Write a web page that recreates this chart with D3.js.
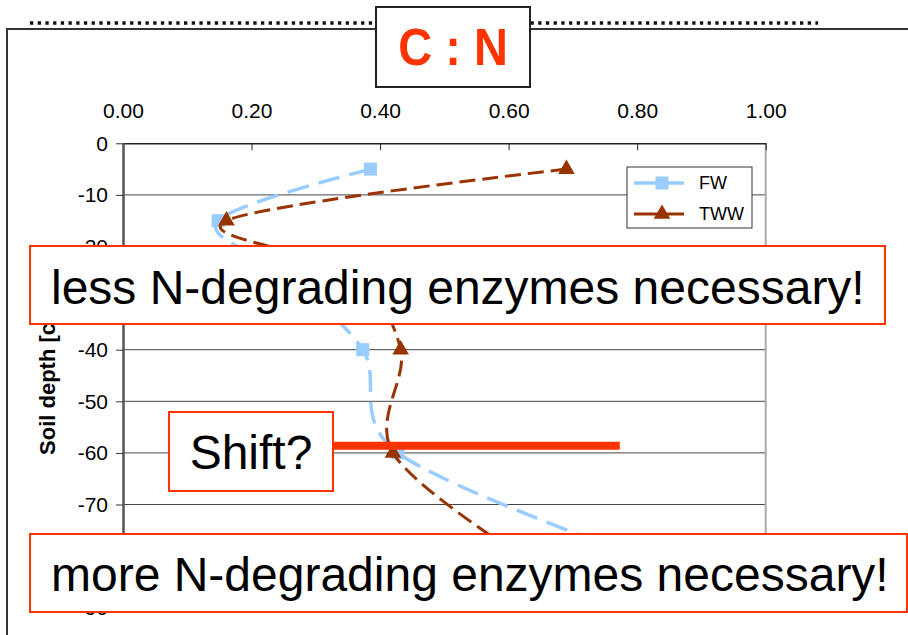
<!DOCTYPE html>
<html>
<head>
<meta charset="utf-8">
<script src="https://cdn.jsdelivr.net/npm/d3@7"></script>
<style>
  html, body { margin: 0; padding: 0; background: #fff; }
  svg { display: block; font-family: "Liberation Sans", Arial, sans-serif; }
</style>
</head>
<body>
<svg id="chart" width="908" height="635"></svg>
<script>
// C:N ratio by soil depth (layer midpoints), two irrigation treatments
const depths = [-5, -15, -25, -40, -60, -80];
const fwValues = [0.385, 0.148, 0.245, 0.373, 0.428, 0.80];
const twwValues = [0.690, 0.161, 0.353, 0.432, 0.420, 0.62];
const seriesNames = ["FW", "TWW"];
const xTicks = [0, 0.2, 0.4, 0.6, 0.8, 1.0];
const yTicks = [0, -10, -20, -30, -40, -50, -60, -70, -80, -90];
const titleText = "C : N";
const yTitleText = "Soil depth [cm]";
const noteTop = "less N-degrading enzymes necessary!";
const noteShift = "Shift?";
const noteBottom = "more N-degrading enzymes necessary!";
const shiftDepth = -58.6;
const shiftEnd = 0.773;

const RED = "#FF3300";
const svg = d3.select("#chart");

const x = d3.scaleLinear().domain([0, 1]).range([123, 765.7]);
const y = d3.scaleLinear().domain([0, -90]).range([143.3, 607.7]);

// slide frame and dotted rule
svg.append("path")
  .attr("d", "M7,635 V29 H908")
  .attr("fill", "none").attr("stroke", "#333").attr("stroke-width", 2);
svg.append("line")
  .attr("x1", 30).attr("x2", 818).attr("y1", 23).attr("y2", 23)
  .attr("stroke", "#111").attr("stroke-width", 3.5)
  .attr("stroke-dasharray", "3.3,4.4");

// title box
svg.append("rect")
  .attr("x", 376).attr("y", 7).attr("width", 154).attr("height", 80)
  .attr("fill", "#fff").attr("stroke", "#222").attr("stroke-width", 2);
svg.append("text")
  .attr("transform", "translate(453,65) scale(1,1.1)")
  .attr("text-anchor", "middle")
  .attr("font-size", 47).attr("font-weight", "bold").attr("fill", RED)
  .text(titleText);

// gridlines
svg.append("g").selectAll("line")
  .data(yTicks.filter(d => d !== 0))
  .join("line")
  .attr("x1", x(0)).attr("x2", x(1))
  .attr("y1", d => y(d)).attr("y2", d => y(d))
  .attr("stroke", "#444").attr("stroke-width", 1);

// right plot border
svg.append("line")
  .attr("x1", x(1)).attr("x2", x(1)).attr("y1", y(0)).attr("y2", y(-90))
  .attr("stroke", "#aaa").attr("stroke-width", 2);

// x axis along the top, ticks pointing into the plot
const xAxis = svg.append("g")
  .attr("transform", `translate(0,${y(0)})`)
  .call(d3.axisTop(x).tickValues(xTicks).tickFormat(d3.format(".2f"))
    .tickSizeInner(-7).tickSizeOuter(0).tickPadding(25));
xAxis.select(".domain").attr("stroke", "#222").attr("stroke-width", 1.5);
xAxis.selectAll(".tick line").attr("stroke", "#222");
xAxis.selectAll("text")
  .attr("font-size", 21).attr("fill", "#000")
  .attr("font-family", "'Liberation Sans', Arial, sans-serif");

// y axis
const yAxis = svg.append("g")
  .attr("transform", `translate(${x(0)},0)`)
  .call(d3.axisLeft(y).tickValues(yTicks).tickFormat(d3.format("d"))
    .tickSizeInner(7).tickSizeOuter(0).tickPadding(8));
yAxis.select(".domain").attr("stroke", "#555").attr("stroke-width", 2.5);
yAxis.selectAll(".tick line").attr("stroke", "#333");
yAxis.selectAll("text")
  .attr("font-size", 21).attr("fill", "#000")
  .attr("font-family", "'Liberation Sans', Arial, sans-serif")
  .text(d => d === 0 ? "0" : d3.format("d")(d).replace("\u2212", "-"));

// y axis title
svg.append("text")
  .attr("transform", `translate(55,${(y(0) + y(-90)) / 2}) rotate(-90)`)
  .attr("text-anchor", "middle")
  .attr("font-size", 22).attr("font-weight", "bold").attr("fill", "#000")
  .text(yTitleText);

// series
const series = [
  { name: seriesNames[0], values: fwValues, color: "#99CCFF", width: 3.5, dash: "22,10", marker: "square" },
  { name: seriesNames[1], values: twwValues, color: "#993300", width: 3, dash: "16,7", marker: "triangle" }
];

const line = d3.line()
  .x(d => x(d.v)).y(d => y(d.depth))
  .curve(d3.curveCardinal.tension(0));

const triangle = d3.symbol().type(d3.symbolTriangle).size(120);

function drawMarker(g, shape, color, cx, cy) {
  if (shape === "square") {
    g.append("rect")
      .attr("x", cx - 6.5).attr("y", cy - 6.5).attr("width", 13).attr("height", 13)
      .attr("fill", color);
  } else {
    g.append("path")
      .attr("d", triangle())
      .attr("transform", `translate(${cx},${cy})`)
      .attr("fill", color);
  }
}

series.forEach(s => {
  const pts = depths.map((d, i) => ({ depth: d, v: s.values[i] }));
  svg.append("path")
    .datum(pts)
    .attr("d", line)
    .attr("fill", "none")
    .attr("stroke", s.color).attr("stroke-width", s.width)
    .attr("stroke-dasharray", s.dash);
  const g = svg.append("g");
  pts.forEach(p => drawMarker(g, s.marker, s.color, x(p.v), y(p.depth)));
});

// legend
const legend = svg.append("g");
legend.append("rect")
  .attr("x", 627).attr("y", 167).attr("width", 125).attr("height", 61)
  .attr("fill", "#fff").attr("stroke", "#333").attr("stroke-width", 1);
series.forEach((s, i) => {
  const ly = 183 + i * 31;
  legend.append("line")
    .attr("x1", 634).attr("x2", 684).attr("y1", ly).attr("y2", ly)
    .attr("stroke", s.color).attr("stroke-width", s.width);
  drawMarker(legend, s.marker, s.color, 662, ly);
  legend.append("text")
    .attr("x", 699).attr("y", ly).attr("dy", "0.36em")
    .attr("font-size", 18).attr("fill", "#000")
    .text(s.name);
});

// annotation boxes
function noteBox(bx, by, bw, bh, text, tx, ty, anchor) {
  svg.append("rect")
    .attr("x", bx).attr("y", by).attr("width", bw).attr("height", bh)
    .attr("fill", "#fff").attr("stroke", RED).attr("stroke-width", 2);
  svg.append("text")
    .attr("x", tx).attr("y", ty)
    .attr("text-anchor", anchor)
    .attr("font-size", 48).attr("fill", "#000")
    .text(text);
}

noteBox(30, 246, 855, 78, noteTop, 51, 303.5, "start");

// shift marker
svg.append("line")
  .attr("x1", 333).attr("x2", x(shiftEnd))
  .attr("y1", y(shiftDepth)).attr("y2", y(shiftDepth))
  .attr("stroke", RED).attr("stroke-width", 8);
noteBox(169, 412, 164, 79, noteShift, 251, 469, "middle");

noteBox(30, 534, 877, 78, noteBottom, 51, 590.5, "start");
</script>
</body>
</html>
